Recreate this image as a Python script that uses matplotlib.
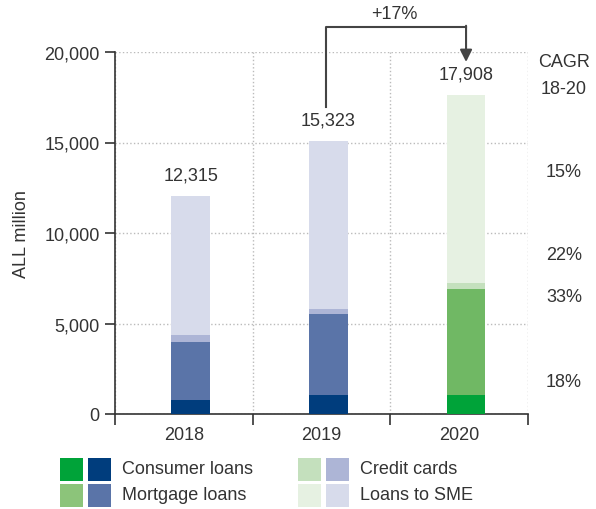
import numpy as np
import matplotlib
matplotlib.use("Agg")
import matplotlib.pyplot as plt
from matplotlib.patches import Rectangle

plt.rcParams["font.family"] = ["Liberation Sans", "DejaVu Sans"]

years = ["2018", "2019", "2020"]
consumer = [770, 1070, 1070]
mortgage = [3210, 4460, 5840]
credit = [380, 280, 300]
sme = [7680, 9290, 10430]
totals = ["12,315", "15,323", "17,908"]
cagr = ["18%", "33%", "22%", "15%"]
cagr_y = [1800, 6500, 8800, 13400]

blue_cols = ["#003d7d", "#5a74a8", "#adb5d6", "#d7dbeb"]
green_cols = ["#00a339", "#70b864", "#c4e0bd", "#e6f1e2"]
legend_green = ["#00a339", "#8cc47a", "#c4e0bd", "#e6f1e2"]
names = ["Consumer loans", "Mortgage loans", "Credit cards", "Loans to SME"]
txt = "#333333"
fs = 13

fig = plt.figure(figsize=(5.96, 5.10), dpi=100)
ax = fig.add_axes([115 / 596, 1 - 415 / 510, 413 / 596, 362 / 510])

x = np.arange(len(years)) + 0.05
series = [consumer, mortgage, credit, sme]
bottom = np.zeros(3)
for i, s in enumerate(series):
    cols = [blue_cols[i], blue_cols[i], green_cols[i]]
    ax.bar(x, s, width=0.28, bottom=bottom, color=cols, linewidth=0, zorder=3)
    bottom += np.array(s)

for xi, top, lab in zip(x, bottom, totals):
    ax.text(xi, top + 1150, lab, ha="center", va="center", fontsize=fs, color=txt)

ax.set_xlim(-0.5, 2.5)
ax.set_ylim(0, 20000)
ax.set_yticks([0, 5000, 10000, 15000, 20000])
ax.set_yticklabels(["0", "5,000", "10,000", "15,000", "20,000"])
ax.set_xticks(range(3))
ax.set_xticklabels(years)
ax.set_xticks([-0.5, 0.5, 1.5, 2.5], minor=True)
ax.tick_params(axis="x", which="major", length=0, pad=9, labelsize=fs, colors=txt)
ax.tick_params(axis="x", which="minor", length=8, width=1.2, color="#333333")
ax.tick_params(axis="y", length=7, width=1.2, pad=4, labelsize=fs, colors=txt)
ax.tick_params(axis="y", color="#333333")
ax.grid(axis="y", color="#bbbbbb", ls=":", lw=1, zorder=0)
ax.grid(axis="x", which="minor", color="#bbbbbb", ls=":", lw=1, zorder=0)
for sp in ["top", "right"]:
    ax.spines[sp].set_visible(False)
for sp in ["left", "bottom"]:
    ax.spines[sp].set_color("#333333")
    ax.spines[sp].set_linewidth(1.2)
ax.set_ylabel("ALL million", fontsize=fs, color=txt, labelpad=10)

# growth arrow 2019 -> 2020
ax.plot([x[1] - 0.02, x[1] - 0.02, x[2]], [16950, 21400, 21400], color="#444444",
        lw=1.5, clip_on=False, zorder=4)
ax.annotate("", xy=(x[2], 19450), xytext=(x[2], 21450),
            arrowprops=dict(arrowstyle="-|>", color="#444444", lw=1.5,
                            mutation_scale=18, shrinkA=0, shrinkB=0),
            annotation_clip=False)
ax.text((x[1] + x[2]) / 2 - 0.02, 22150, "+17%", ha="center", va="center",
        fontsize=fs, color=txt)

# CAGR column
ytr = ax.get_yaxis_transform()
ax.text(1.087, 19500, "CAGR", transform=ytr, ha="center", va="center",
        fontsize=fs, color=txt, clip_on=False)
ax.text(1.087, 18000, "18-20", transform=ytr, ha="center", va="center",
        fontsize=fs, color=txt, clip_on=False)
for lab, yy in zip(cagr, cagr_y):
    ax.text(1.087, yy, lab, transform=ytr, ha="center", va="center",
            fontsize=fs, color=txt, clip_on=False)

# legend
W, H = 596, 510
sq = 23
rows = [470, 496]
for j in range(4):
    col = j // 2
    row = j % 2
    x0 = 60 if col == 0 else 298
    yc = rows[row]
    for k, c in enumerate([legend_green[j], blue_cols[j]]):
        r = Rectangle(((x0 + k * 28) / W, 1 - (yc + sq / 2) / H), sq / W, sq / H,
                      transform=fig.transFigure, color=c, lw=0)
        fig.patches.append(r)
    fig.text((x0 + 62) / W, 1 - yc / H, names[j], ha="left", va="center",
             fontsize=fs, color=txt)

fig.savefig("out.png", dpi=100)
